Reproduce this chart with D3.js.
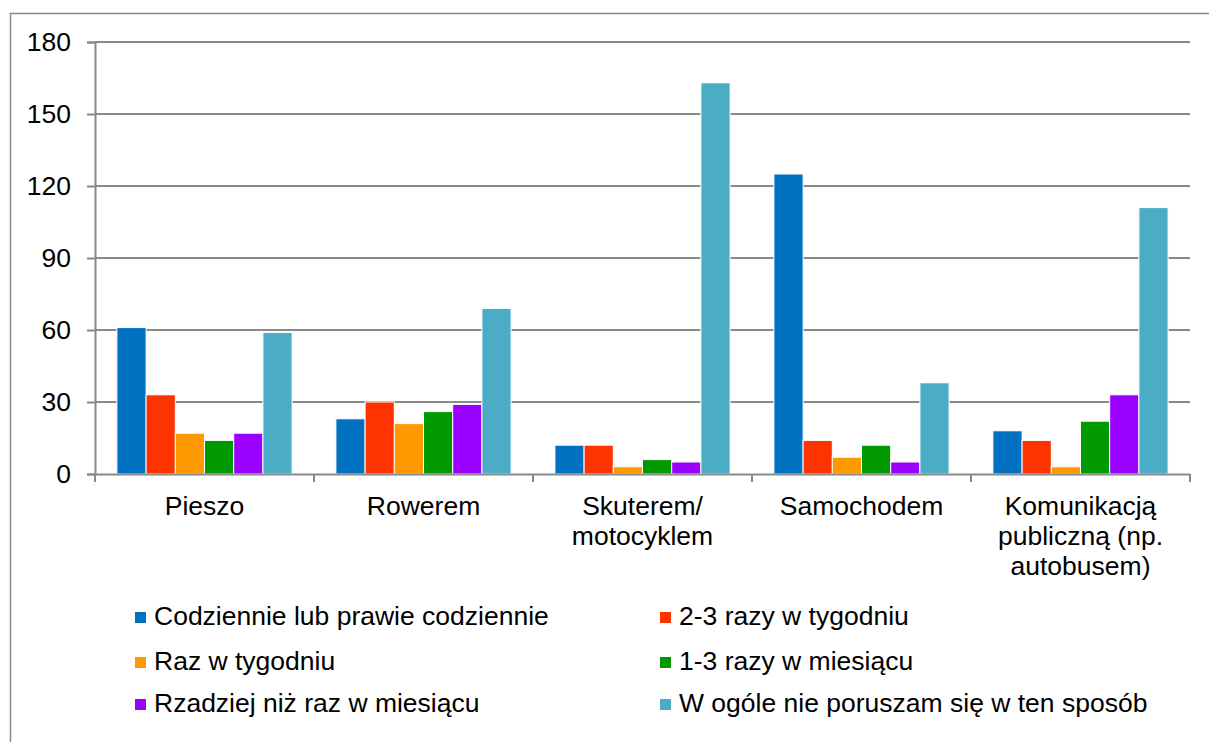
<!DOCTYPE html>
<html>
<head>
<meta charset="utf-8">
<script src="https://cdn.jsdelivr.net/npm/d3@7"></script>
<style>
  html, body { margin: 0; padding: 0; background: #fff; }
  svg { display: block; }
  text { font-family: "Liberation Sans", Arial, sans-serif; fill: #000; }
</style>
</head>
<body>
<svg id="chart" width="1209" height="742"></svg>
<script>
const categories = [
  ["Pieszo"],
  ["Rowerem"],
  ["Skuterem/", "motocyklem"],
  ["Samochodem"],
  ["Komunikacją", "publiczną (np.", "autobusem)"]
];
const seriesNames = [
  "Codziennie lub prawie codziennie",
  "2-3 razy w tygodniu",
  "Raz w tygodniu",
  "1-3 razy w miesiącu",
  "Rzadziej niż raz w miesiącu",
  "W ogóle nie poruszam się w ten sposób"
];
const seriesColors = ["#0070C0", "#FF3300", "#FF9900", "#009900", "#9900FF", "#4BACC6"];
// values per series, in category order
const codziennie = [61, 23, 12, 125, 18];
const dwaTrzyTydz = [33, 30, 12, 14, 14];
const razTydz = [17, 21, 3, 7, 3];
const jedenTrzyMies = [14, 26, 6, 12, 22];
const rzadziej = [17, 29, 5, 5, 33];
const wOgole = [59, 69, 163, 38, 111];
const seriesValues = [codziennie, dwaTrzyTydz, razTydz, jedenTrzyMies, rzadziej, wOgole];
const yTicks = [0, 30, 60, 90, 120, 150, 180];

(function () {
const svg = d3.select("#chart");
const pLeft = 95, pRight = 1190, pTop = 42, pBottom = 474;
const gridColor = "#898989";
const fs = "26.5px";

// outer border
svg.append("rect")
  .attr("x", 10.5).attr("y", 13.5)
  .attr("width", 1220).attr("height", 760)
  .attr("fill", "none").attr("stroke", gridColor).attr("stroke-width", 1.5);

const catKeys = categories.map((c, i) => i);
const x0 = d3.scaleBand().domain(catKeys).range([pLeft, pRight]).padding(0);
const bw = x0.bandwidth();
const barUnit = bw / 7.5;
const x1 = d3.scaleBand().domain(d3.range(seriesNames.length))
  .range([barUnit * 0.75, bw - barUnit * 0.75]).padding(0);
const y = d3.scaleLinear().domain([0, 180]).range([pBottom, pTop]);

// gridlines
svg.append("g").selectAll("line").data(yTicks.filter(t => t > 0)).join("line")
  .attr("x1", pLeft).attr("x2", pRight)
  .attr("y1", d => y(d)).attr("y2", d => y(d))
  .attr("stroke", gridColor).attr("stroke-width", 2);

// bars
const groups = svg.append("g").selectAll("g").data(catKeys).join("g")
  .attr("transform", d => `translate(${x0(d)},0)`);
groups.selectAll("rect")
  .data(ci => seriesValues.map((vals, si) => ({ si, v: vals[ci] })))
  .join("rect")
  .attr("x", d => x1(d.si))
  .attr("width", x1.bandwidth())
  .attr("y", d => y(d.v))
  .attr("height", d => y(0) - y(d.v))
  .attr("fill", d => seriesColors[d.si])
  .attr("stroke", "#ffffff").attr("stroke-width", 1);

// y axis
const yAxis = d3.axisLeft(y).tickValues(yTicks).tickSize(8).tickPadding(16);
const yg = svg.append("g").attr("transform", `translate(${pLeft},0)`).call(yAxis);
yg.select(".domain").attr("stroke", gridColor).attr("stroke-width", 2);
yg.selectAll(".tick line").attr("stroke", gridColor).attr("stroke-width", 2);
yg.selectAll(".tick text").style("font-size", fs).attr("fill", "#000")
  .attr("font-family", "Liberation Sans, Arial, sans-serif");

// x axis
const xAxis = d3.axisBottom(x0).tickFormat(() => "").tickSize(0);
const xg = svg.append("g").attr("transform", `translate(0,${pBottom})`).call(xAxis);
xg.select(".domain").attr("stroke", gridColor).attr("stroke-width", 2);
xg.selectAll(".tick").remove();
// category boundary ticks
const bounds = catKeys.map(k => x0(k)).concat([pRight]);
xg.selectAll("line.b").data(bounds).join("line").attr("class", "b")
  .attr("x1", d => d).attr("x2", d => d).attr("y1", 0).attr("y2", 8)
  .attr("stroke", gridColor).attr("stroke-width", 2);

// category labels
const lab = svg.append("g").selectAll("text").data(catKeys).join("text")
  .attr("text-anchor", "middle")
  .style("font-size", fs)
  .attr("transform", d => `translate(${x0(d) + bw / 2},515)`);
lab.selectAll("tspan").data(d => categories[d]).join("tspan")
  .attr("x", 0).attr("y", (d, i) => i * 30).text(d => d);

// legend
const legCols = [135, 660];
const legRows = [625, 670, 712];
const leg = svg.append("g").selectAll("g").data(seriesNames).join("g")
  .attr("transform", (d, i) => `translate(${legCols[i % 2]},${legRows[Math.floor(i / 2)]})`);
leg.append("rect").attr("x", 0).attr("y", -13).attr("width", 11).attr("height", 11)
  .attr("fill", (d, i) => seriesColors[i]);
leg.append("text").attr("x", 19).attr("y", 0).style("font-size", fs).text(d => d);
})();
</script>
</body>
</html>
